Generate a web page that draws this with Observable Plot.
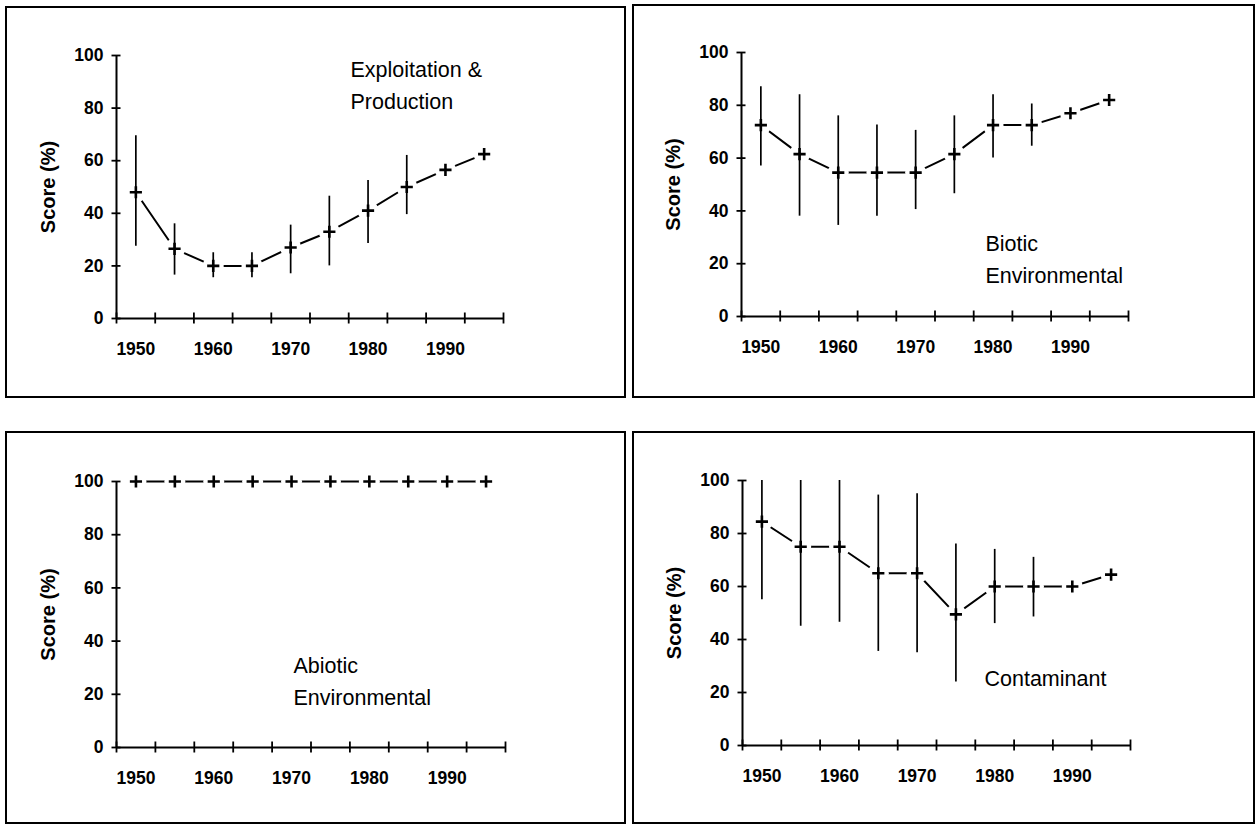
<!DOCTYPE html>
<html>
<head>
<meta charset="utf-8">
<script src="https://cdn.jsdelivr.net/npm/d3@7"></script>
<script src="https://cdn.jsdelivr.net/npm/@observablehq/plot@0.6"></script>
<style>
  html, body { margin: 0; padding: 0; background: #fff; }
  #page { position: relative; width: 1256px; height: 825px; overflow: hidden; font-family: "Liberation Sans", Arial, sans-serif; }
  .box { position: absolute; border: 2px solid #000; box-sizing: border-box; background: #fff; }
  .box svg { position: absolute; left: 0; top: 0; }
</style>
</head>
<body>
<div id="page"></div>
<script>
// ---- Data ----
const years = [1950, 1955, 1960, 1965, 1970, 1975, 1980, 1985, 1990, 1995];
const xDomain = [1947.5, 1997.5];
const xTickBounds = [1947.5, 1952.5, 1957.5, 1962.5, 1967.5, 1972.5, 1977.5, 1982.5, 1987.5, 1992.5, 1997.5];
const xTickLabels = [1950, 1960, 1970, 1980, 1990];
const yTicks = [0, 20, 40, 60, 80, 100];
const yLabel = "Score (%)";

const exploitTitle = "Exploitation &\nProduction";
const exploit   = [48, 26.5, 20, 20, 27, 33, 41, 50, 56.5, 62.5];
const exploitLo = [27.5, 16.5, 15.5, 15.5, 17, 20, 28.5, 39.5, null, null];
const exploitHi = [69.5, 36, 25, 25, 35.5, 46.5, 52.5, 62, null, null];

const bioticTitle = "Biotic\nEnvironmental";
const biotic   = [72.5, 61.5, 54.5, 54.5, 54.5, 61.5, 72.5, 72.5, 77, 82];
const bioticLo = [57, 38, 34.5, 38, 40.5, 46.5, 60, 64.5, null, null];
const bioticHi = [87, 84, 76, 72.5, 70.5, 76, 84, 80.5, null, null];

const abioticTitle = "Abiotic\nEnvironmental";
const abiotic   = [100, 100, 100, 100, 100, 100, 100, 100, 100, 100];
const abioticLo = [null, null, null, null, null, null, null, null, null, null];
const abioticHi = [null, null, null, null, null, null, null, null, null, null];

const contamTitle = "Contaminant";
const contam   = [84.5, 75, 75, 65, 65, 49.5, 60, 60, 60, 64.5];
const contamLo = [55, 45, 46.5, 35.5, 35, 24, 46, 48.5, null, null];
const contamHi = [100, 100, 100, 94.5, 95, 76, 74, 71, null, null];

// ---- Layout (positions only) ----
const panels = [
  {values: exploit, lo: exploitLo, hi: exploitHi, title: exploitTitle,
   box: {left: 5, top: 6, width: 621, height: 392},
   m: {left: 109, top: 47, right: 121, bottom: 78}, tdx: 234, tdy: 27.5},
  {values: biotic, lo: bioticLo, hi: bioticHi, title: bioticTitle,
   box: {left: 632, top: 4, width: 623, height: 394},
   m: {left: 107, top: 46, right: 125, bottom: 80}, tdx: 244, tdy: 204},
  {values: abiotic, lo: abioticLo, hi: abioticHi, title: abioticTitle,
   box: {left: 5, top: 431, width: 621, height: 393},
   m: {left: 109, top: 48, right: 119, bottom: 75}, tdx: 177, tdy: 197},
  {values: contam, lo: contamLo, hi: contamHi, title: contamTitle,
   box: {left: 632, top: 431, width: 623, height: 393},
   m: {left: 108, top: 47, right: 123, bottom: 77}, tdx: 242, tdy: 195}
];

const page = document.getElementById("page");

for (const p of panels) {
  const rows = years.map((year, i) => ({year, v: p.values[i], lo: p.lo[i], hi: p.hi[i]}));
  const bars = rows.filter(d => d.lo != null && d.hi != null);

  const innerW = p.box.width - 4, innerH = p.box.height - 4;
  const chart = Plot.plot({
    width: innerW,
    height: innerH,
    marginLeft: p.m.left, marginRight: p.m.right, marginTop: p.m.top, marginBottom: p.m.bottom,
    style: {fontFamily: "'Liberation Sans', Arial, sans-serif", fontSize: "17px", fontWeight: "bold", color: "#000", background: "transparent", overflow: "visible"},
    x: {type: "linear", domain: xDomain},
    y: {domain: [0, 100]},
    marks: [
      // axis lines
      Plot.ruleY([0], {stroke: "#000", strokeWidth: 2}),
      Plot.ruleX([xDomain[0]], {stroke: "#000", strokeWidth: 2}),
      // tick marks crossing axes
      Plot.axisX(xTickBounds, {tickSize: 11, dy: -5.5, tickFormat: () => "", label: null, strokeWidth: 1.8}),
      Plot.axisY(yTicks, {tickSize: 9, dx: 4.5, tickFormat: () => "", label: null, strokeWidth: 1.8}),
      // tick labels
      Plot.axisX(xTickLabels, {tickSize: 0, tickPadding: 24, tickFormat: d => String(d), label: null, fontWeight: "bold", fontSize: 17.5}),
      Plot.axisY(yTicks, {tickSize: 0, tickPadding: 13, label: null, fontWeight: "bold", fontSize: 17.5}),
      // connecting line
      Plot.line(rows, {x: "year", y: "v", stroke: "#000", strokeWidth: 2}),
      // white halo around markers (gaps in the line)
      Plot.dot(rows, {x: "year", y: "v", r: 10.5, fill: "#fff", stroke: null}),
      // error bars
      Plot.ruleX(bars, {x: "year", y1: "lo", y2: "hi", stroke: "#000", strokeWidth: 1.7}),
      // markers
      Plot.dot(rows, {x: "year", y: "v", symbol: "plus", r: 4, stroke: "#000", strokeWidth: 2.6}),
      // y label
      Plot.text([yLabel], {text: d => d, frameAnchor: "left", dx: -68, rotate: -90, textAnchor: "middle", lineAnchor: "middle", fontWeight: "bold", fontSize: 20, fill: "#000"}),
      // panel title
      Plot.text([p.title], {text: d => d, frameAnchor: "top-left", dx: p.tdx, dy: p.tdy, textAnchor: "start", lineAnchor: "middle", lineHeight: 1.5, fontWeight: "normal", fontSize: 21.5, fill: "#000"})
    ]
  });

  const box = document.createElement("div");
  box.className = "box";
  box.style.left = p.box.left + "px";
  box.style.top = p.box.top + "px";
  box.style.width = p.box.width + "px";
  box.style.height = p.box.height + "px";
  box.appendChild(chart);
  page.appendChild(box);
}
</script>
</body>
</html>
